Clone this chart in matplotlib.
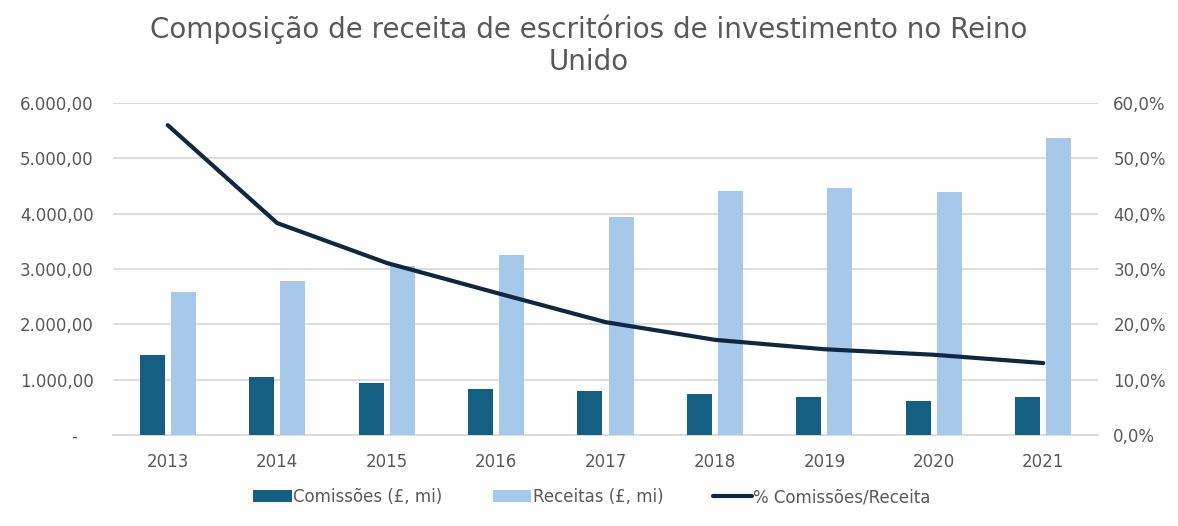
import matplotlib
matplotlib.use("Agg")
import matplotlib.pyplot as plt
import numpy as np
from matplotlib.ticker import FuncFormatter, MultipleLocator

years = ["2013", "2014", "2015", "2016", "2017", "2018", "2019", "2020", "2021"]
comissoes = [1447, 1049, 940, 832, 796, 741, 687, 615, 687]
receitas = [2586, 2785, 3056, 3255, 3942, 4412, 4467, 4394, 5370]
pct = [56.0, 38.3, 31.1, 25.7, 20.4, 17.2, 15.5, 14.5, 13.0]

plt.rcParams['font.family'] = ['DejaVu Sans']
txt = "#595959"

fig = plt.figure(figsize=(11.78, 5.26), dpi=100)
ax = fig.add_axes([113/1178, 91/526, 985/1178, 332/526])
ax2 = ax.twinx()

x = np.arange(len(years))
w = 0.228
off = 0.142
ax.bar(x - off, comissoes, w, color="#156082", label="Comissões (£, mi)", zorder=3)
ax.bar(x + off, receitas, w, color="#A6C8EB", label="Receitas (£, mi)", zorder=3)
ax2.plot(x, pct, color="#0E2841", lw=3, solid_capstyle="round", label="% Comissões/Receita", zorder=4)

ax.set_xlim(-0.5, 8.5)
ax.set_ylim(0, 6000)
ax2.set_ylim(0, 60)
ax.yaxis.set_major_locator(MultipleLocator(1000))
ax2.yaxis.set_major_locator(MultipleLocator(10))

def fmt_left(v, p):
    if v == 0:
        return "-   "
    s = f"{v:,.2f}"
    return s.replace(",", "X").replace(".", ",").replace("X", ".")

def fmt_right(v, p):
    return f"{v:.1f}%".replace(".", ",")

ax.yaxis.set_major_formatter(FuncFormatter(fmt_left))
ax2.yaxis.set_major_formatter(FuncFormatter(fmt_right))
ax.set_xticks(x)
ax.set_xticklabels(years)

ax.grid(axis="y", color="#D9D9D9", lw=1.3, zorder=0)
ax.set_axisbelow(True)
for a in (ax, ax2):
    for s in a.spines.values():
        s.set_visible(False)
    a.tick_params(length=0, colors=txt, labelsize=12)
ax.spines["bottom"].set_visible(True)
ax.spines["bottom"].set_color("#D9D9D9")
ax.spines["bottom"].set_linewidth(1.3)
ax.tick_params(axis="y", pad=14)
ax2.tick_params(axis="y", pad=11)
ax.tick_params(axis="x", pad=13)

fig.text(0.5, 1 - 45/526, "Composição de receita de escritórios de investimento no Reino\nUnido",
         ha="center", va="center", fontsize=20, color=txt, linespacing=1.2)

h1, l1 = ax.get_legend_handles_labels()
h2, l2 = ax2.get_legend_handles_labels()
fig.legend(h1 + h2, l1 + l2, loc="center", bbox_to_anchor=(592/1178, 1 - 497/526), ncol=3,
           frameon=False, fontsize=12, labelcolor=txt, handlelength=2.3,
           handletextpad=0.1, columnspacing=3.0)

fig.savefig("out.png", dpi=100)
